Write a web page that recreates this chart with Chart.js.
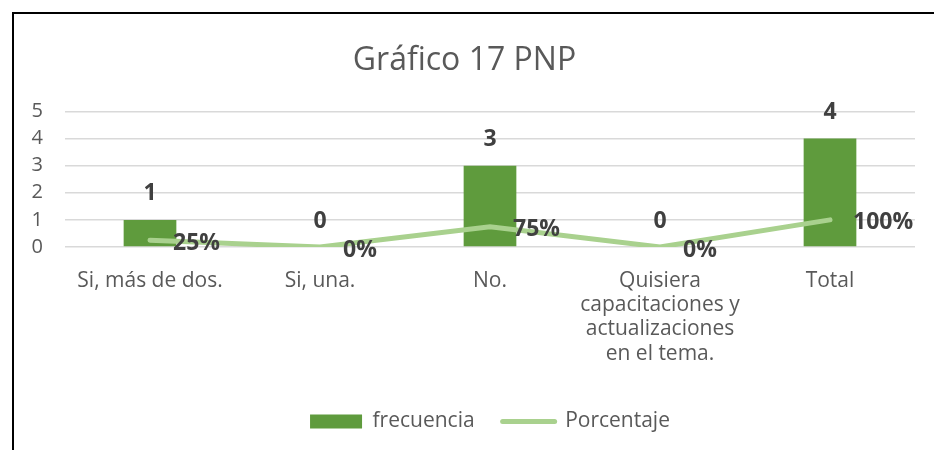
<!DOCTYPE html>
<html>
<head>
<meta charset="utf-8">
<script src="https://cdn.jsdelivr.net/npm/chart.js@4"></script>
<style>
  html, body { margin: 0; padding: 0; background: #fff; overflow: hidden; }
  #frame {
    position: absolute; left: 12px; top: 12px;
    width: 922px; height: 438px;
    border-left: 2px solid #000; border-top: 2px solid #000;
  }
</style>
</head>
<body>
<div id="frame"><canvas id="grafico17"></canvas></div>
<script>
const categorias = ['Si, más de dos.', 'Si, una.', 'No.', ['Quisiera', 'capacitaciones y', 'actualizaciones', 'en el tema.'], 'Total'];
const frecuencia = [1, 0, 3, 0, 4];
const porcentaje = [0.25, 0, 0.75, 0, 1];
const porcentajeTexto = ['25%', '0%', '75%', '0%', '100%'];

const FONT = '"Open Sans"';

// no datalabels plugin offline, so draw the value labels by hand
const valueLabels = {
  id: 'valueLabels',
  afterDatasetsDraw(chart) {
    const ctx = chart.ctx;
    ctx.save();
    ctx.font = 'bold 23px ' + FONT;
    ctx.fillStyle = '#404040';
    ctx.textBaseline = 'middle';
    ctx.textAlign = 'center';
    chart.getDatasetMeta(0).data.forEach((bar, i) => {
      ctx.fillText(frecuencia[i], bar.x, bar.y - 26);
    });
    ctx.textAlign = 'left';
    chart.getDatasetMeta(1).data.forEach((pt, i) => {
      ctx.fillText(porcentajeTexto[i], pt.x + 23, pt.y + 3);
    });
    ctx.restore();
  }
};

new Chart(document.getElementById('grafico17'), {
  type: 'bar',
  data: {
    labels: categorias,
    datasets: [
      {
        label: 'frecuencia',
        data: frecuencia,
        backgroundColor: '#5F9B3D',
        categoryPercentage: 1,
        barPercentage: 0.31,
        order: 1
      },
      {
        type: 'line',
        label: 'Porcentaje',
        data: porcentaje,
        borderColor: '#A9D18E',
        backgroundColor: '#A9D18E',
        borderWidth: 5,
        borderCapStyle: 'round',
        pointRadius: 0,
        tension: 0,
        order: 0
      }
    ]
  },
  options: {
    responsive: true,
    maintainAspectRatio: false,
    animation: false,
    layout: { padding: { left: 0, right: 21, top: 0, bottom: 10 } },
    scales: {
      y: {
        min: 0,
        max: 5,
        ticks: { stepSize: 1, autoSkip: false, color: '#595959', font: { family: FONT, size: 20 }, padding: 22 },
        grid: { color: '#D9D9D9', lineWidth: 1.5, drawTicks: false },
        border: { display: false },
        afterFit(scale) { scale.width = 51; }
      },
      x: {
        ticks: { color: '#595959', font: { family: FONT, size: 21, lineHeight: 1.15 }, padding: 14, maxRotation: 0 },
        grid: { display: false },
        border: { display: false },
        afterFit(scale) { scale.height = 136; }
      }
    },
    plugins: {
      title: {
        display: true,
        text: 'Gráfico 17 PNP',
        color: '#595959',
        font: { family: FONT, size: 32, weight: 'normal', lineHeight: 1.2 },
        padding: { top: 28, bottom: 31 }
      },
      legend: {
        position: 'bottom',
        fullSize: false,
        labels: {
          color: '#595959',
          font: { family: FONT, size: 21 },
          usePointStyle: true,
          pointStyleWidth: 52,
          boxHeight: 14,
          padding: 28,
          sort: (a, b) => a.datasetIndex - b.datasetIndex,
          generateLabels(chart) {
            const items = Chart.defaults.plugins.legend.labels.generateLabels(chart);
            return items.map(it => it.datasetIndex === 0
              ? { ...it, pointStyle: 'rect', lineWidth: 0 }
              : { ...it, pointStyle: 'line', lineWidth: 5, lineCap: 'round', strokeStyle: '#A9D18E' });
          }
        }
      },
      tooltip: { enabled: false }
    }
  },
  plugins: [valueLabels]
});
</script>
</body>
</html>
